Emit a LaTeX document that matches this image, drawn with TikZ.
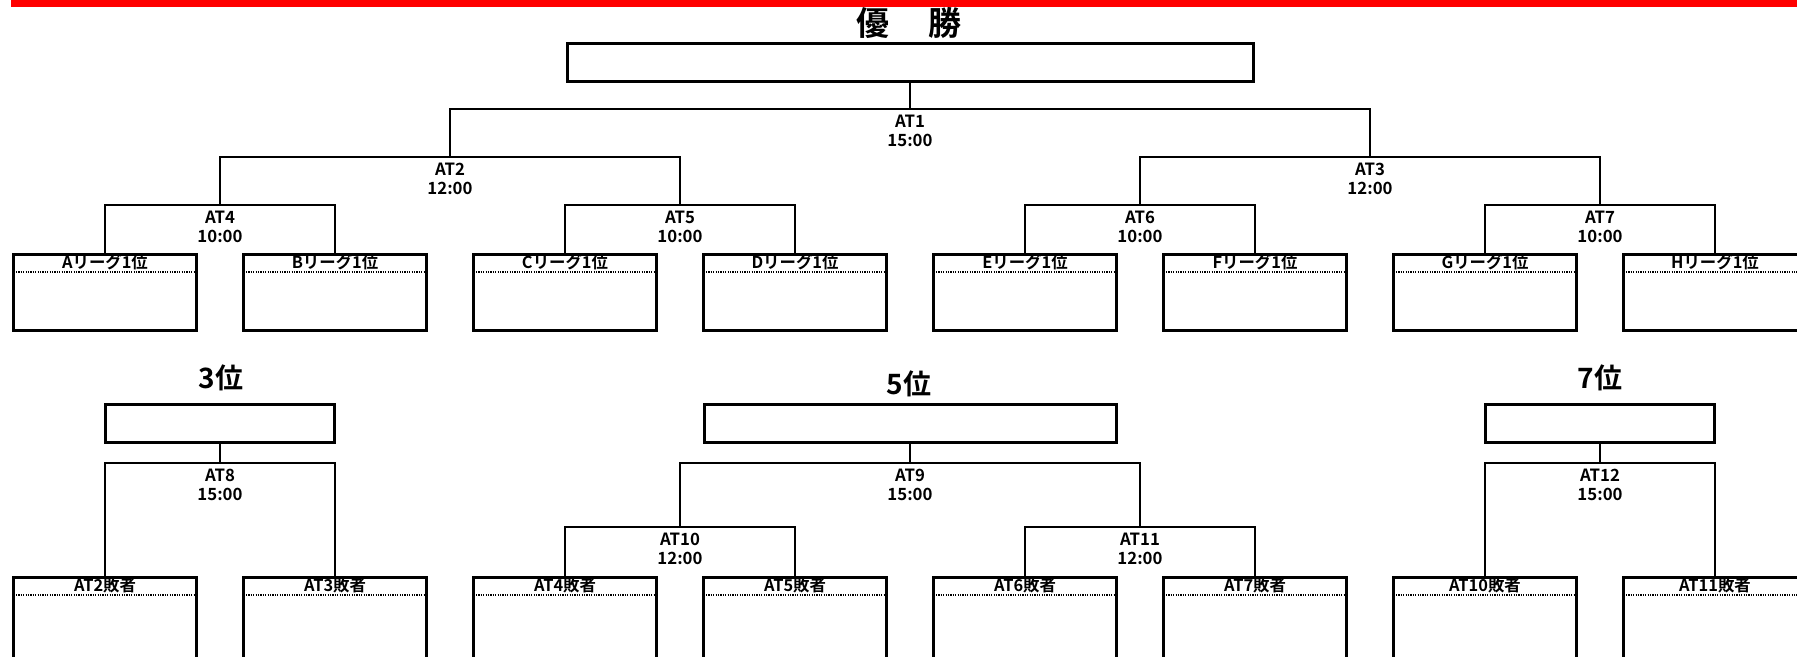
\documentclass[tikz,border=0pt]{standalone}
\usepackage{fontspec}
\setmainfont{Noto Sans CJK JP}[BoldFont={* Bold}]
\usetikzlibrary{positioning}
\tikzstyle{leaf} = [draw, line width=1.5pt, minimum width=91.5pt, minimum height=38pt, inner sep=0pt, path picture={\draw[line width=0.6pt, dash pattern=on 0.6pt off 0.6pt] ([yshift=-8.75pt]path picture bounding box.north west) -- ([yshift=-8.75pt]path picture bounding box.north east);}]
\tikzstyle{loser} = [leaf, minimum height=60pt]
\tikzstyle{hdr} = [font=\bfseries\fontsize{8.2}{9}\selectfont, inner sep=0pt, anchor=center, yshift=-4.5pt]
\tikzstyle{winbox} = [draw, line width=1.5pt, minimum height=19pt, inner sep=0pt]
\tikzstyle{match} = [font=\bfseries\fontsize{8.4}{9.5}\selectfont, align=center, anchor=north, inner xsep=0pt, inner ysep=2.8pt]
\tikzstyle{rank} = [font=\bfseries\fontsize{14}{16}\selectfont, inner sep=0pt]
\tikzstyle{tedge} = [draw, line width=0.75pt]
\begin{document}
\begin{tikzpicture}[x=0.5pt, y=-0.5pt]
\useasboundingbox (0,0) rectangle (1797,657);
\clip (0,0) rectangle (1797,657);
\fill[red] (11,0) rectangle (1797,7);

% final ===================================
\node[rank, font=\bfseries\fontsize{16.5}{18}\selectfont] (title) at (909,23) {優\hspace{1.2em}勝};
\node[winbox, minimum width=343pt] (champ) at (910,62.5) {};

% league winners
\node[leaf, label={[hdr]north:Aリーグ1位}] (la) at (105,292.5) {};
\node[leaf, right=22pt of la, label={[hdr]north:Bリーグ1位}] (lb) {};
\node[leaf, right=22pt of lb, label={[hdr]north:Cリーグ1位}] (lc) {};
\node[leaf, right=22pt of lc, label={[hdr]north:Dリーグ1位}] (ld) {};
\node[leaf, right=22pt of ld, label={[hdr]north:Eリーグ1位}] (le) {};
\node[leaf, right=22pt of le, label={[hdr]north:Fリーグ1位}] (lf) {};
\node[leaf, right=22pt of lf, label={[hdr]north:Gリーグ1位}] (lg) {};
\node[leaf, right=22pt of lg, label={[hdr]north:Hリーグ1位}] (lh) {};

% matches
\node[match] (at1) at (910,109) {AT1\\15:00};
\node[match] (at2) at (450,157) {AT2\\12:00};
\node[match] (at3) at (1370,157) {AT3\\12:00};
\node[match] (at4) at (220,205) {AT4\\10:00};
\node[match] (at5) at (680,205) {AT5\\10:00};
\node[match] (at6) at (1140,205) {AT6\\10:00};
\node[match] (at7) at (1600,205) {AT7\\10:00};

% placings ================================
\node[rank] (r3) at (221,378) {3位};
\node[rank] (r5) at (909,384) {5位};
\node[rank] (r7) at (1600,378) {7位};
\node[winbox, minimum width=114.5pt] (p3) at (220,423.5) {};
\node[winbox, minimum width=206pt] (p5) at (910,423.5) {};
\node[winbox, minimum width=114.5pt] (p7) at (1600,423.5) {};

% losers
\node[loser, below=122pt of la, label={[hdr]north:AT2敗者}] (qa) {};
\node[loser, below=122pt of lb, label={[hdr]north:AT3敗者}] (qb) {};
\node[loser, below=122pt of lc, label={[hdr]north:AT4敗者}] (qc) {};
\node[loser, below=122pt of ld, label={[hdr]north:AT5敗者}] (qd) {};
\node[loser, below=122pt of le, label={[hdr]north:AT6敗者}] (qe) {};
\node[loser, below=122pt of lf, label={[hdr]north:AT7敗者}] (qf) {};
\node[loser, below=122pt of lg, label={[hdr]north:AT10敗者}] (qg) {};
\node[loser, below=122pt of lh, label={[hdr]north:AT11敗者}] (qh) {};

\node[match] (at8) at (220,463) {AT8\\15:00};
\node[match] (at9) at (910,463) {AT9\\15:00};
\node[match] (at10) at (680,527) {AT10\\12:00};
\node[match] (at11) at (1140,527) {AT11\\12:00};
\node[match] (at12) at (1600,463) {AT12\\15:00};

%edges
\path[tedge] (la.north) |- (at4.north) -| (lb.north);
\path[tedge] (lc.north) |- (at5.north) -| (ld.north);
\path[tedge] (le.north) |- (at6.north) -| (lf.north);
\path[tedge] (lg.north) |- (at7.north) -| (lh.north);
\path[tedge] (at4.north) |- (at2.north) -| (at5.north);
\path[tedge] (at6.north) |- (at3.north) -| (at7.north);
\path[tedge] (at2.north) |- (at1.north) -| (at3.north);
\path[tedge] (at1.north) -- (champ.south);

\path[tedge] (qa.north) |- (at8.north) -| (qb.north);
\path[tedge] (at8.north) -- (p3.south);
\path[tedge] (qc.north) |- (at10.north) -| (qd.north);
\path[tedge] (qe.north) |- (at11.north) -| (qf.north);
\path[tedge] (at10.north) |- (at9.north) -| (at11.north);
\path[tedge] (at9.north) -- (p5.south);
\path[tedge] (qg.north) |- (at12.north) -| (qh.north);
\path[tedge] (at12.north) -- (p7.south);
\end{tikzpicture}
\end{document}
